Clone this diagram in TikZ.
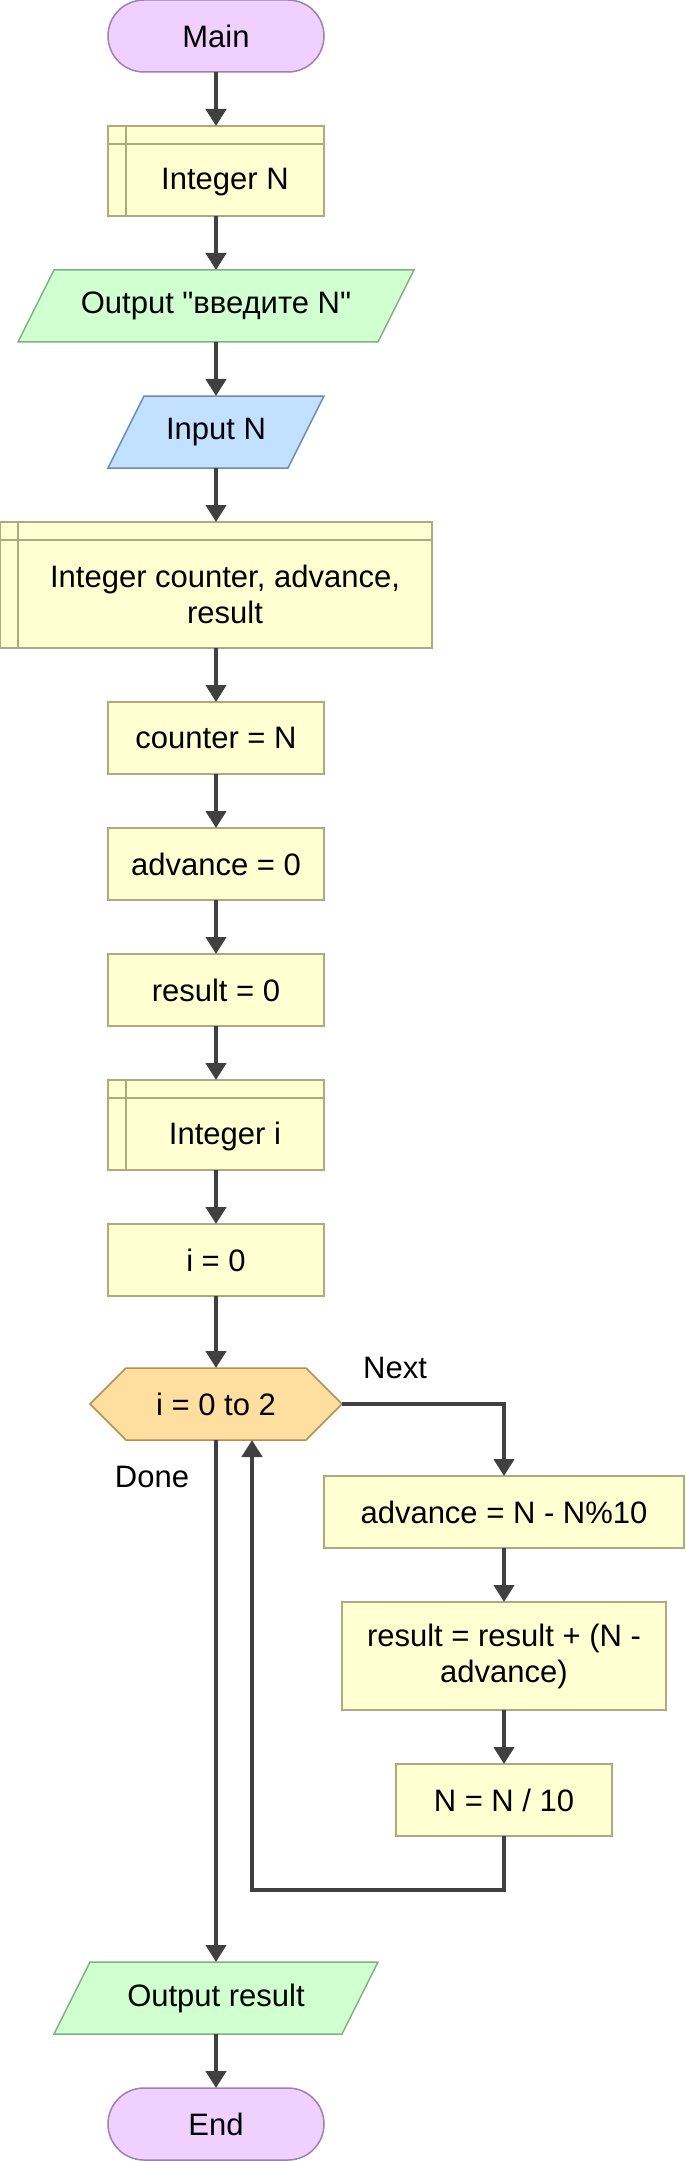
\documentclass[tikz,border=0pt]{standalone}
\usepackage{fontspec}
\newfontfamily\flowfont{Liberation Sans}
\usetikzlibrary{arrows.meta,backgrounds}
\definecolor{termfill}{HTML}{F0D0FE}
\definecolor{termdraw}{HTML}{A080B0}
\definecolor{procfill}{HTML}{FFFFD2}
\definecolor{procdraw}{HTML}{ABAB80}
\definecolor{outfill}{HTML}{D0FFD0}
\definecolor{outdraw}{HTML}{80B080}
\definecolor{infill}{HTML}{C2E0FF}
\definecolor{indraw}{HTML}{6A8CB0}
\definecolor{loopfill}{HTML}{FFDFA0}
\definecolor{loopdraw}{HTML}{B09058}
\definecolor{arrowc}{HTML}{404040}
\begin{document}
\begin{tikzpicture}[x=0.5pt,y=-0.5pt,
  font=\flowfont\fontsize{15.5pt}{18pt}\selectfont,
  base/.style={inner sep=0pt, outer sep=0pt, line width=0.75pt, align=center, text=black},
  term/.style={base, draw=termdraw, fill=termfill, rounded corners=18pt, minimum width=108pt, minimum height=36pt},
  proc/.style={base, draw=procdraw, fill=procfill, minimum width=108pt, minimum height=36pt},
  decl/.style={proc, path picture={
      \draw[procdraw, line width=0.75pt]
        ([xshift=9pt]path picture bounding box.north west) -- ([xshift=9pt]path picture bounding box.south west)
        ([yshift=-9pt]path picture bounding box.north west) -- ([yshift=-9pt]path picture bounding box.north east);}},
  shapebox/.style={base, minimum height=36pt},
  lbl/.style={inner sep=0pt, text=black},
  flow/.style={draw=arrowc, line width=2.25pt, -{Triangle[width=10pt,length=8.5pt]}}
]
\useasboundingbox (0,0) rectangle (685,2161);

% main column
\node[term] (main) at (216,36) {Main};
\node[decl, minimum height=45pt, label={[lbl,xshift=4.5pt,yshift=-5.5pt]center:Integer N}] (intn) at (216,171) {};
\node[shapebox, minimum width=198pt] (out1) at (216,306) {Output "введите N"};
\node[shapebox, minimum width=108pt] (inp) at (216,432) {Input N};
\node[decl, minimum width=216pt, minimum height=63pt,
  label={[lbl,align=center,xshift=4.5pt,yshift=-4.5pt]center:Integer counter, advance,\\result}] (decl2) at (216,585) {};
\node[proc] (cnt) at (216,738) {counter = N};
\node[proc] (adv0) at (216,864) {advance = 0};
\node[proc] (res0) at (216,990) {result = 0};
\node[decl, minimum height=45pt, label={[lbl,xshift=4.5pt,yshift=-5.5pt]center:Integer i}] (inti) at (216,1125) {};
\node[proc] (i0) at (216,1260) {i = 0};
\node[shapebox, minimum width=126pt] (hex) at (216,1404) {i = 0 to 2};

% loop body
\node[proc, minimum width=180pt] (adv) at (504,1512) {advance = N - N\%10};
\node[proc, minimum width=162pt, minimum height=54pt] (res) at (504,1656) {result = result + (N -\\advance)};
\node[proc] (nn) at (504,1800) {N = N / 10};

\node[shapebox, minimum width=162pt] (outres) at (216,1998) {Output result};
\node[term] (end) at (216,2124) {End};

\node[lbl] (next) at (395,1368) {Next};
\node[lbl] (done) at (152,1477) {Done};

% shapes drawn behind texts
\begin{scope}[on background layer]
  \filldraw[fill=outfill, draw=outdraw, line width=0.75pt]
    ([xshift=18pt]out1.north west) -- (out1.north east) -- ([xshift=-18pt]out1.south east) -- (out1.south west) -- cycle;
  \filldraw[fill=infill, draw=indraw, line width=0.75pt]
    ([xshift=18pt]inp.north west) -- (inp.north east) -- ([xshift=-18pt]inp.south east) -- (inp.south west) -- cycle;
  \filldraw[fill=loopfill, draw=loopdraw, line width=0.75pt]
    (hex.west) -- ([xshift=18pt]hex.north west) -- ([xshift=-18pt]hex.north east) -- (hex.east)
    -- ([xshift=-18pt]hex.south east) -- ([xshift=18pt]hex.south west) -- cycle;
  \filldraw[fill=outfill, draw=outdraw, line width=0.75pt]
    ([xshift=18pt]outres.north west) -- (outres.north east) -- ([xshift=-18pt]outres.south east) -- (outres.south west) -- cycle;
\end{scope}

% connectors
\draw[flow] (main) -- (intn);
\draw[flow] (intn) -- (out1);
\draw[flow] (out1) -- (inp);
\draw[flow] (inp) -- (decl2);
\draw[flow] (decl2) -- (cnt);
\draw[flow] (cnt) -- (adv0);
\draw[flow] (adv0) -- (res0);
\draw[flow] (res0) -- (inti);
\draw[flow] (inti) -- (i0);
\draw[flow] (i0) -- (hex);
\draw[flow] (hex.east) -| (adv.north);
\draw[flow] (adv) -- (res);
\draw[flow] (res) -- (nn);
\coordinate (back) at (252,1890);
\draw[flow] (nn.south) |- (back) -- (back |- hex.south);
\draw[flow] (hex.south) -- (outres.north);
\draw[flow] (outres) -- (end);
\end{tikzpicture}
\end{document}
